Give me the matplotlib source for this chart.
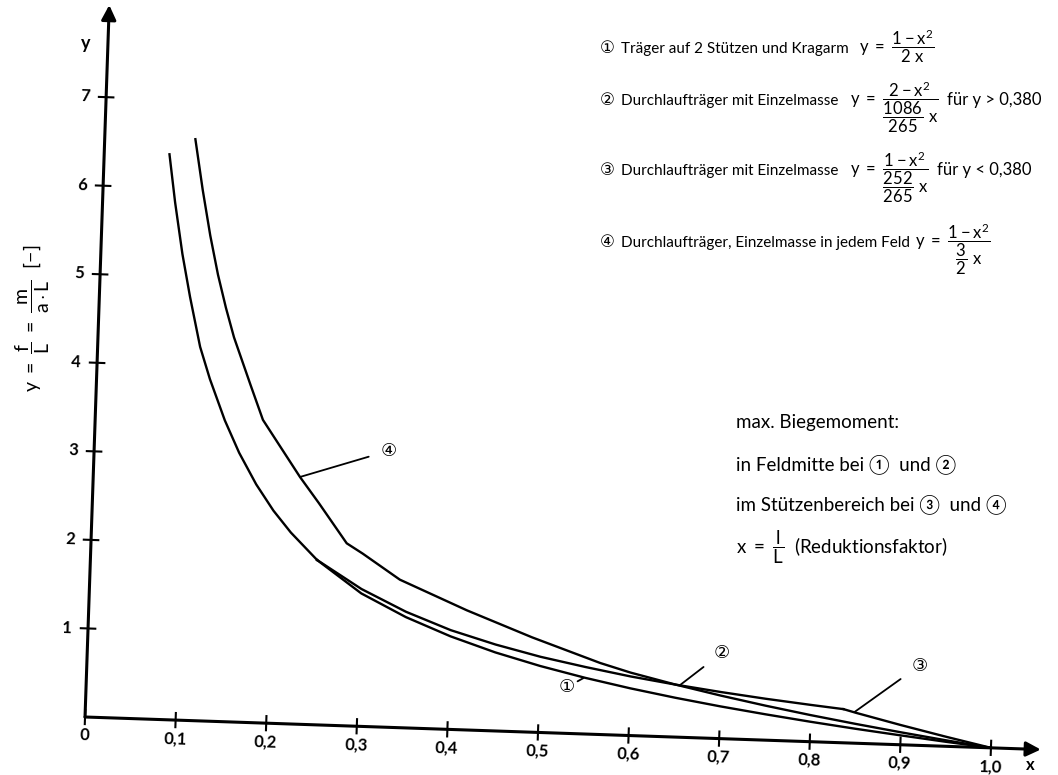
import matplotlib.pyplot as plt
from matplotlib.transforms import Affine2D

# x = l/L , y = f/L
x_left = [0.072, 0.08, 0.09, 0.10, 0.113, 0.125, 0.143, 0.16, 0.18, 0.20, 0.22, 0.25]
y_left = [6.38, 5.84, 5.26, 4.78, 4.22, 3.86, 3.40, 3.04, 2.69, 2.40, 2.16, 1.86]

x_c1 = [0.25, 0.30, 0.35, 0.40, 0.45, 0.50, 0.55, 0.60, 0.65, 0.70, 0.75, 0.80, 0.85, 0.90, 0.95, 1.0]
y_c1 = [1.86, 1.50, 1.25, 1.05, 0.886, 0.75, 0.634, 0.533, 0.444, 0.364, 0.292, 0.225, 0.163, 0.106, 0.051, 0.0]

x_c2 = [0.25, 0.30, 0.35, 0.40, 0.45, 0.50, 0.55, 0.60, 0.65, 0.70, 0.75, 0.80, 0.836]
y_c2 = [1.86, 1.55, 1.31, 1.12, 0.975, 0.854, 0.756, 0.667, 0.592, 0.526, 0.467, 0.415, 0.38]

x_c3 = [0.836, 0.85, 0.90, 0.95, 1.0]
y_c3 = [0.38, 0.343, 0.222, 0.108, 0.0]

x_c4 = [0.10, 0.11, 0.12, 0.13, 0.14, 0.15, 0.17, 0.185, 0.20, 0.228, 0.25, 0.282, 0.30,
        0.342, 0.417, 0.49, 0.566, 0.60, 0.65, 0.70, 0.75, 0.80, 0.85, 0.90, 0.95, 1.0]
y_c4 = [6.56, 5.99, 5.48, 5.04, 4.67, 4.34, 3.81, 3.42, 3.20, 2.79, 2.50, 2.06, 1.95,
        1.67, 1.35, 1.07, 0.807, 0.71, 0.592, 0.486, 0.389, 0.30, 0.218, 0.141, 0.068, 0.0]

x_ticks = [0, 0.1, 0.2, 0.3, 0.4, 0.5, 0.6, 0.7, 0.8, 0.9, 1.0]
x_tick_labels = ['0', '0,1', '0,2', '0,3', '0,4', '0,5', '0,6', '0,7', '0,8', '0,9', '1,0']
y_ticks = [1, 2, 3, 4, 5, 6, 7]

# curve label: (name, point on curve, label position)
curve_labels = [
    ('④', (0.228, 2.79), (0.325, 3.12)),
    ('①', (0.548, 0.63), (0.530, 0.52)),
    ('②', (0.655, 0.59), (0.700, 0.97)),
    ('③', (0.848, 0.35), (0.918, 0.90)),
]

plt.rcParams['font.family'] = ['Lato', 'DejaVu Sans']
plt.rcParams['mathtext.fontset'] = 'custom'
plt.rcParams['mathtext.rm'] = 'Lato'
plt.rcParams['mathtext.it'] = 'Lato'
plt.rcParams['mathtext.bf'] = 'Lato:bold'
circ = ['DejaVu Sans', 'Noto Sans CJK JP']

fig = plt.figure(figsize=(10.58, 7.75), dpi=100)
ax = fig.add_axes([0, 0, 1, 1])
ax.set_xlim(-0.0938, 1.0734)
ax.set_ylim(-0.6546, 8.0925)
ax.axis('off')

# the scanned sheet is turned by about 2 degrees
ox, oy = ax.transData.transform((0, 0))
tilt = ax.transData + Affine2D().rotate_deg_around(ox, oy, -1.95)

# axes with arrows
arrow = dict(arrowstyle='-|>', color='black', lw=2.2, mutation_scale=22, shrinkA=0, shrinkB=0)
ax.annotate('', xy=(1.055, 0), xytext=(0, 0), xycoords=tilt, textcoords=tilt, arrowprops=arrow)
ax.annotate('', xy=(0, 8.04), xytext=(0, 0), xycoords=tilt, textcoords=tilt, arrowprops=arrow)

for xt, lbl in zip(x_ticks, x_tick_labels):
    ax.plot([xt, xt], [-0.08, 0.08], color='black', lw=1.5, transform=tilt)
    ax.text(xt, -0.21, lbl, transform=tilt, ha='center', va='center',
            fontsize=12, fontweight='bold', rotation=-1.95)
for yt in y_ticks:
    ax.plot([-0.008, 0.008], [yt, yt], color='black', lw=1.5, transform=tilt)
    ax.text(-0.023, yt, str(yt), transform=tilt, ha='center', va='center',
            fontsize=12, fontweight='bold', rotation=-1.95)
ax.text(-0.025, 7.60, 'y', transform=tilt, ha='center', va='center', fontsize=13, fontweight='bold')
ax.text(1.044, -0.18, 'x', transform=tilt, ha='center', va='center', fontsize=12, fontweight='bold')

# curves
for xs, ys in [(x_left, y_left), (x_c1, y_c1), (x_c2, y_c2), (x_c3, y_c3), (x_c4, y_c4)]:
    ax.plot(xs, ys, color='black', lw=1.7, transform=tilt, solid_joinstyle='round')

for name, pt, pos in curve_labels:
    ax.annotate(name, xy=pt, xytext=pos, xycoords=tilt, textcoords=tilt,
                ha='center', va='center', fontsize=13, family=circ,
                arrowprops=dict(arrowstyle='-', color='black', lw=1.3, shrinkA=7, shrinkB=0))

renderer = fig.canvas.get_renderer()


def row(parts, base, x=600):
    # lay the pieces of one line out from left to right
    for txt, kw, gap in parts:
        t = fig.text(x / 1058, 1 - base / 775, txt, va='baseline', **kw)
        x = t.get_window_extent(renderer).x1 + gap


desc_kw = dict(fontsize=11)
math_kw = dict(fontsize=12)
num_kw = dict(fontsize=12, family=circ)

row([('①', num_kw, 6), ('Träger auf 2 Stützen und Kragarm', desc_kw, 10),
     (r'$y\ =\ \dfrac{1 - x^2}{2\ x}$', math_kw, 0)], 53)
row([('②', num_kw, 6), ('Durchlaufträger mit Einzelmasse', desc_kw, 12),
     (r'$y\ =\ \dfrac{2 - x^2}{\dfrac{1086}{265}\ x}$', math_kw, 8),
     ('für y > 0,380', math_kw, 0)], 105)
row([('③', num_kw, 6), ('Durchlaufträger mit Einzelmasse', desc_kw, 12),
     (r'$y\ =\ \dfrac{1 - x^2}{\dfrac{252}{265}\ x}$', math_kw, 8),
     ('für y < 0,380', math_kw, 0)], 175)
row([('④', num_kw, 6), ('Durchlaufträger, Einzelmasse in jedem Feld', desc_kw, 5),
     (r'$y\ =\ \dfrac{1 - x^2}{\dfrac{3}{2}\ x}$', math_kw, 0)], 247)

# notes, right middle
nfs = 13.5
fig.text(736 / 1058, 1 - 428 / 775, 'max. Biegemoment:', fontsize=nfs, va='baseline')
fig.text(736 / 1058, 1 - 470 / 775, 'in Feldmitte bei ①  und ②', fontsize=nfs, va='baseline')
fig.text(736 / 1058, 1 - 510 / 775, 'im Stützenbereich bei ③  und ④', fontsize=nfs, va='baseline')
fig.text(736 / 1058, 1 - 553 / 775, r'$x\ =\ \dfrac{l}{L}$  (Reduktionsfaktor)', fontsize=nfs, va='baseline')

# rotated y label
fig.text(33 / 1058, 1 - 318 / 775, r'$y\ =\ \dfrac{f}{L}\ =\ \dfrac{m}{a\cdot L}\ \ [-]$',
         rotation=90, ha='center', va='center', fontsize=14)

fig.savefig('out.png', dpi=100)
